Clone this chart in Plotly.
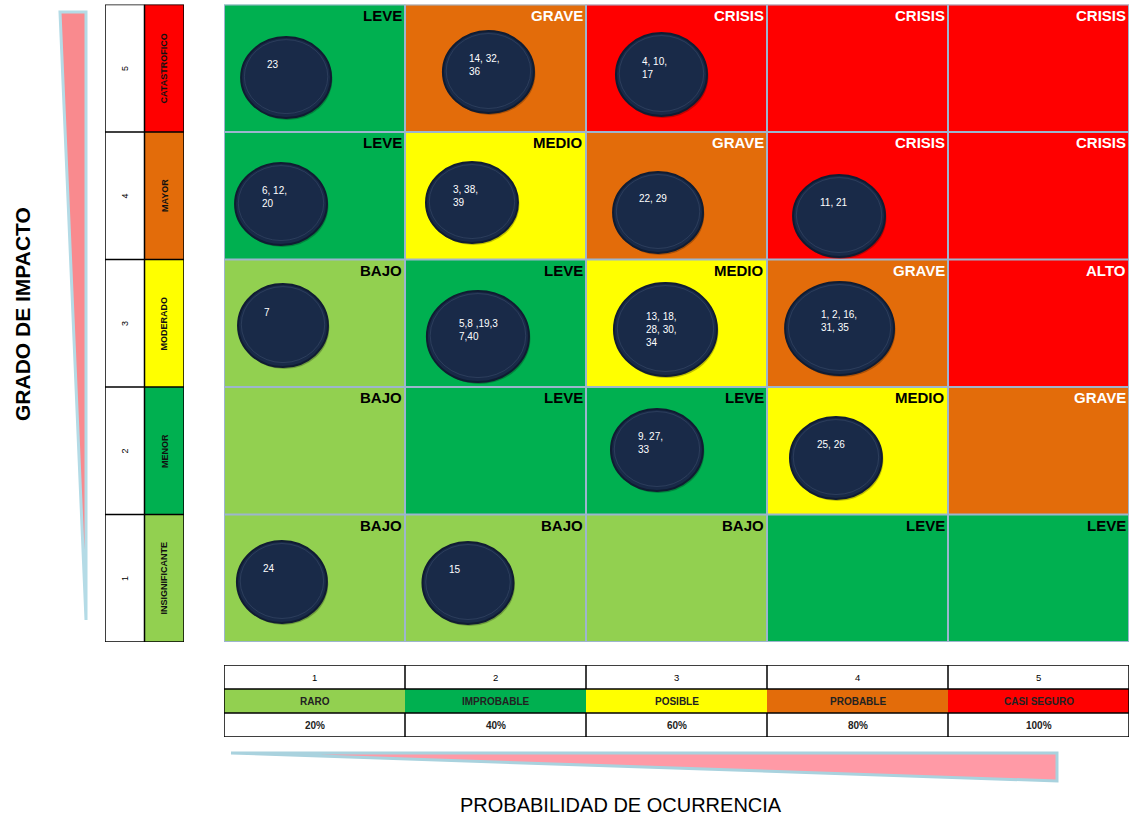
import plotly.graph_objects as go

# ---------------- data ----------------
prob_levels = [1, 2, 3, 4, 5]
prob_names = ["RARO", "IMPROBABLE", "POSIBLE", "PROBABLE", "CASI SEGURO"]
prob_pct = ["20%", "40%", "60%", "80%", "100%"]

impact_levels = [1, 2, 3, 4, 5]
impact_names = ["INSIGNIFICANTE", "MENOR", "MODERADO", "MAYOR", "CATASTROFICO"]

# risk level of each cell: rows = impact 1..5, columns = probability 1..5
risk_matrix = [
    ["BAJO", "BAJO", "BAJO", "LEVE", "LEVE"],
    ["BAJO", "LEVE", "LEVE", "MEDIO", "GRAVE"],
    ["BAJO", "LEVE", "MEDIO", "GRAVE", "ALTO"],
    ["LEVE", "MEDIO", "GRAVE", "CRISIS", "CRISIS"],
    ["LEVE", "GRAVE", "CRISIS", "CRISIS", "CRISIS"],
]

# risks placed in the matrix
bubble_prob = [1, 2, 3, 1, 2, 3, 4, 1, 2, 3, 4, 3, 4, 1, 2]
bubble_impact = [5, 5, 5, 4, 4, 4, 4, 3, 3, 3, 3, 2, 2, 1, 1]
bubble_ids = ["23", "14, 32,<br>36", "4, 10,<br>17", "6, 12,<br>20", "3, 38,<br>39",
              "22, 29", "11, 21", "7", "5,8 ,19,3<br>7,40", "13, 18,<br>28, 30,<br>34",
              "1, 2, 16,<br>31, 35", "9. 27,<br>33", "25, 26", "24", "15"]

# ---------------- style ----------------
W, H = 1140, 820
LG, G, Y, O, R = "#92D050", "#00B050", "#FFFF00", "#E36C0A", "#FF0000"
level_code = {"BAJO": 0, "LEVE": 1, "MEDIO": 2, "GRAVE": 3, "ALTO": 4, "CRISIS": 4}
level_font = {"BAJO": "black", "LEVE": "black", "MEDIO": "black",
              "GRAVE": "white", "ALTO": "white", "CRISIS": "white"}
impact_colors = [LG, G, Y, O, R]
prob_colors = [LG, G, Y, O, R]

# bubble placement inside its cell (cell units) and size (cell units)
bubble_dx = [-0.157, -0.039, -0.083, -0.185, -0.130, -0.102, -0.102, -0.174, -0.097,
             -0.061, -0.099, -0.108, -0.119, -0.180, -0.152]
bubble_dy = [-0.073, -0.029, -0.049, -0.065, -0.053, -0.131, -0.159, -0.018, -0.104,
             -0.049, -0.041, 0.006, -0.057, -0.029, -0.037]
bubble_w = [0.497, 0.503, 0.503, 0.508, 0.508, 0.497, 0.508, 0.497, 0.564,
            0.569, 0.602, 0.508, 0.508, 0.497, 0.503]
bubble_h = [0.635, 0.643, 0.651, 0.643, 0.635, 0.635, 0.643, 0.651, 0.714,
            0.729, 0.729, 0.643, 0.643, 0.643, 0.643]

NARROW = "Liberation Sans Narrow, Arial Narrow, Liberation Sans, Arial, sans-serif"
SANS = "Liberation Sans, Arial, sans-serif"
GRID = "#9DB5CE"

fig = go.Figure()

# ---------------- main matrix (heatmap) ----------------
z = [[level_code[v] for v in row] for row in risk_matrix]
colorscale = [[0.0, LG], [0.2, LG], [0.2, G], [0.4, G], [0.4, Y], [0.6, Y],
              [0.6, O], [0.8, O], [0.8, R], [1.0, R]]
fig.add_trace(go.Heatmap(z=z, x=prob_levels, y=impact_levels, zmin=-0.5, zmax=4.5,
                         colorscale=colorscale, showscale=False, hoverinfo="skip"))

shapes = []
annotations = []

# grid lines
for k in range(1, 5):
    shapes.append(dict(type="line", xref="x", yref="y", x0=k + 0.5, x1=k + 0.5,
                       y0=0.5, y1=5.5, line=dict(color=GRID, width=2)))
    shapes.append(dict(type="line", xref="x", yref="y", x0=0.5, x1=5.5,
                       y0=k + 0.5, y1=k + 0.5, line=dict(color=GRID, width=2)))
shapes.append(dict(type="rect", xref="x", yref="y", x0=0.5, x1=5.5, y0=0.5, y1=5.5,
                   line=dict(color=GRID, width=2)))

# risk level labels in each cell
for i, imp in enumerate(impact_levels):
    for j, pr in enumerate(prob_levels):
        lvl = risk_matrix[i][j]
        annotations.append(dict(x=pr + 0.5, y=imp + 0.5, xref="x", yref="y",
                                text=lvl, showarrow=False, xanchor="right",
                                yanchor="top", xshift=-1, yshift=0,
                                font=dict(family=NARROW, size=15, weight="bold",
                                          color=level_font[lvl])))

# bubbles
for k in range(len(bubble_ids)):
    cx = bubble_prob[k] + bubble_dx[k]
    cy = bubble_impact[k] + bubble_dy[k]
    w, h = bubble_w[k], bubble_h[k]
    # shadow
    shapes.append(dict(type="circle", xref="x", yref="y",
                       x0=cx - w / 2 + 0.008, x1=cx + w / 2 + 0.008,
                       y0=cy - h / 2 - 0.016, y1=cy + h / 2 - 0.016,
                       fillcolor="rgba(0,0,0,0.25)", line=dict(width=0)))
    shapes.append(dict(type="circle", xref="x", yref="y",
                       x0=cx - w / 2, x1=cx + w / 2, y0=cy - h / 2, y1=cy + h / 2,
                       fillcolor="#192A48", line=dict(color="#101C32", width=2)))
    shapes.append(dict(type="circle", xref="x", yref="y",
                       x0=cx - w / 2 + 0.018, x1=cx + w / 2 - 0.018,
                       y0=cy - h / 2 + 0.035, y1=cy + h / 2 - 0.02,
                       fillcolor="rgba(0,0,0,0)",
                       line=dict(color="rgba(140,160,190,0.16)", width=1)))
    annotations.append(dict(x=cx, y=cy, xref="x", yref="y", text=bubble_ids[k],
                            showarrow=False, xanchor="left", yanchor="top",
                            align="left", xshift=-21, yshift=21,
                            font=dict(family=SANS, size=10, color="white")))

# ---------------- left table (impact) ----------------
for i, imp in enumerate(impact_levels):
    shapes.append(dict(type="rect", xref="x2", yref="y", x0=1, x1=2,
                       y0=imp - 0.5, y1=imp + 0.5, fillcolor=impact_colors[i],
                       line=dict(width=0), layer="below"))
    annotations.append(dict(x=0.5, y=imp, xref="x2", yref="y", text=str(imp),
                            showarrow=False, textangle=-90,
                            xanchor="center", yanchor="middle",
                            font=dict(family=SANS, size=9, color="black")))
    annotations.append(dict(x=1.5, y=imp, xref="x2", yref="y", text=impact_names[i],
                            showarrow=False, textangle=-90,
                            xanchor="center", yanchor="middle",
                            font=dict(family=SANS, size=9, weight="bold",
                                      color="#111111")))
shapes.append(dict(type="rect", xref="x2", yref="y", x0=0, x1=2, y0=0.5, y1=5.5,
                   line=dict(color="black", width=1.5)))
shapes.append(dict(type="line", xref="x2", yref="y", x0=1, x1=1, y0=0.5, y1=5.5,
                   line=dict(color="black", width=1.5)))
for k in range(1, 5):
    shapes.append(dict(type="line", xref="x2", yref="y", x0=0, x1=2,
                       y0=k + 0.5, y1=k + 0.5, line=dict(color="black", width=1.5)))

# ---------------- bottom table (probability) ----------------
for j, pr in enumerate(prob_levels):
    shapes.append(dict(type="rect", xref="x", yref="y3", x0=pr - 0.5, x1=pr + 0.5,
                       y0=1, y1=2, fillcolor=prob_colors[j], line=dict(width=0),
                       layer="below"))
    annotations.append(dict(x=pr, y=2.5, xref="x", yref="y3", text=str(pr),
                            showarrow=False, xanchor="center", yanchor="middle",
                            font=dict(family=SANS, size=9.5, color="black")))
    annotations.append(dict(x=pr, y=1.5, xref="x", yref="y3", text=prob_names[j],
                            showarrow=False, xanchor="center", yanchor="middle",
                            font=dict(family=SANS, size=10, weight="bold", color="#222222")))
    annotations.append(dict(x=pr, y=0.5, xref="x", yref="y3", text=prob_pct[j],
                            showarrow=False, xanchor="center", yanchor="middle",
                            font=dict(family=SANS, size=10, weight="bold", color="#222222")))
shapes.append(dict(type="rect", xref="x", yref="y3", x0=0.5, x1=5.5, y0=0, y1=3,
                   line=dict(color="black", width=1.5)))
for k in (1, 2):
    shapes.append(dict(type="line", xref="x", yref="y3", x0=0.5, x1=5.5, y0=k, y1=k,
                       line=dict(color="black", width=1.5)))
for k in range(1, 5):
    for (a, b) in ((0, 1), (2, 3)):
        shapes.append(dict(type="line", xref="x", yref="y3", x0=k + 0.5, x1=k + 0.5,
                           y0=a, y1=b, line=dict(color="black", width=1.5)))


# ---------------- decorative wedges ----------------
def px(x, y):
    return f"{x / W:.5f},{1 - y / H:.5f}"


shapes.append(dict(type="path", xref="paper", yref="paper",
                   path=f"M {px(60, 12)} L {px(86, 12)} L {px(86, 620)} Z",
                   fillcolor="#F98A8E", line=dict(color="#B4DBE6", width=3)))
shapes.append(dict(type="path", xref="paper", yref="paper",
                   path=f"M {px(231, 753)} L {px(1057, 753)} L {px(1057, 781)} Z",
                   fillcolor="#FF9AA6", line=dict(color="#A9D2DE", width=3)))

# ---------------- titles ----------------
annotations.append(dict(x=22 / W, y=1 - 314 / H, xref="paper", yref="paper",
                        text="GRADO DE IMPACTO", showarrow=False, textangle=-90,
                        xanchor="center", yanchor="middle",
                        font=dict(family=SANS, size=21, weight="bold", color="black")))
annotations.append(dict(x=621 / W, y=1 - 805 / H, xref="paper", yref="paper",
                        text="PROBABILIDAD DE OCURRENCIA", showarrow=False,
                        xanchor="center", yanchor="middle",
                        font=dict(family=SANS, size=20, color="black")))

fig.update_layout(
    width=W, height=H, margin=dict(l=0, r=0, t=0, b=0, pad=0),
    paper_bgcolor="white", plot_bgcolor="white", showlegend=False,
    xaxis=dict(domain=[224 / W, 1129 / W], range=[0.5, 5.5], visible=False,
               fixedrange=True, anchor="y"),
    yaxis=dict(domain=[1 - 642 / H, 1 - 4.5 / H], range=[0.5, 5.5], visible=False,
               fixedrange=True, anchor="x"),
    xaxis2=dict(domain=[105 / W, 184 / W], range=[0, 2], visible=False,
                fixedrange=True, anchor="y"),
    yaxis3=dict(domain=[1 - 737 / H, 1 - 665 / H], range=[0, 3], visible=False,
                fixedrange=True, anchor="x"),
    shapes=shapes, annotations=annotations,
)

fig.write_html("out.html")
